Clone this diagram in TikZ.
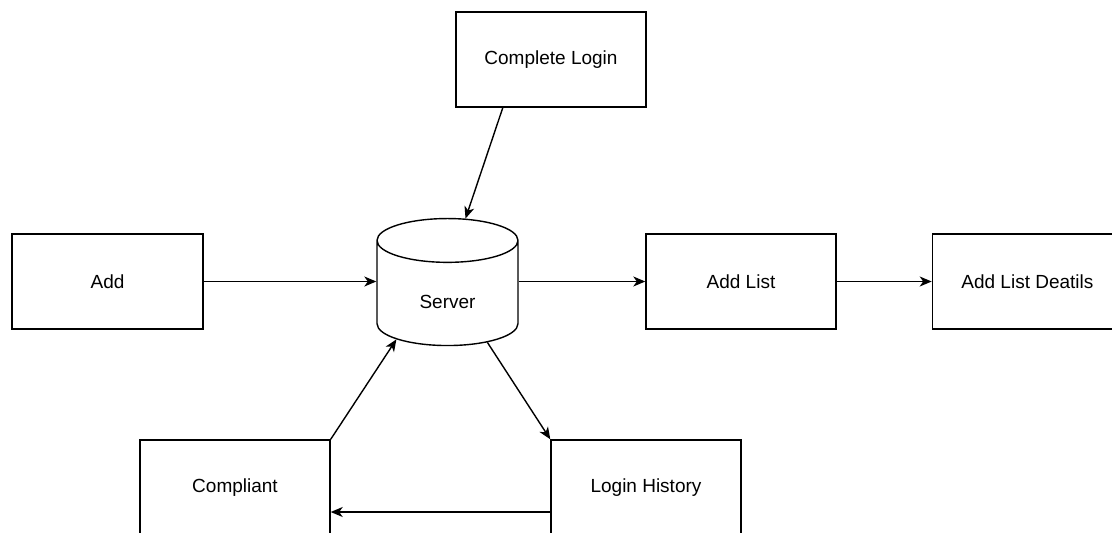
\documentclass[tikz,border=0pt]{standalone}
\usepackage{fontspec}
\setmainfont{Liberation Sans}
\usepackage{tikz}
\usetikzlibrary{shapes.geometric}
\usetikzlibrary{positioning}
\usetikzlibrary{arrows.meta}
\tikzset{node distance=95pt, % gap between the list boxes
         block/.style={ % plain boxes
           draw, line width=1.4pt, fill=white,
           minimum width=190pt, minimum height=95pt,
           font=\fontsize{19}{23}\selectfont},
         db/.style={ % the server drum
           cylinder, shape border rotate=90, inner sep=3pt, aspect=7.3,
           draw, line width=1.4pt, fill=white,
           minimum width=141pt, minimum height=127pt},
         arrow/.style={ % connectors
           -{Stealth[length=12pt, width=10pt, inset=3.5pt]},
           line width=1.4pt}}

\begin{document}
\begin{tikzpicture}[x=1pt, y=-1pt]
      \useasboundingbox (0,0) rectangle (1112,533);
      \clip (0,0) rectangle (1112,533);

      \node[block] (login) at (551,59.5) {Complete Login};
      \node[block, minimum width=191pt] (add) at (107.5,281.5) {Add};
      \node[db, label={[yshift=-5pt, font=\fontsize{19}{23}\selectfont]center:Server}] (server) at (447.5,296.5) {};
      \node[block] (addlist) at (741,281.5) {Add List};
      \node[block, right=of addlist] (details) {Add List Deatils};
      \node[block] (compliant) at (235,487.5) {Compliant};
      \node[block] (history) at (646,487.5) {Login History};

      \draw[arrow] (login.225) -- (server.77);
      \draw[arrow] (add.east) -- (server.169 |- add.east);
      \draw[arrow] (server.11 |- addlist.west) -- (addlist.west);
      \draw[arrow] (addlist.east) -- (details.west);
      \draw[arrow] (compliant.north east) -- (server.220);
      \draw[arrow] (server.311) -- (history.north west);
      \draw[arrow] ([yshift=-24.5pt]history.west) -- ([yshift=-24.5pt]compliant.east);

    \end{tikzpicture}
\end{document}
